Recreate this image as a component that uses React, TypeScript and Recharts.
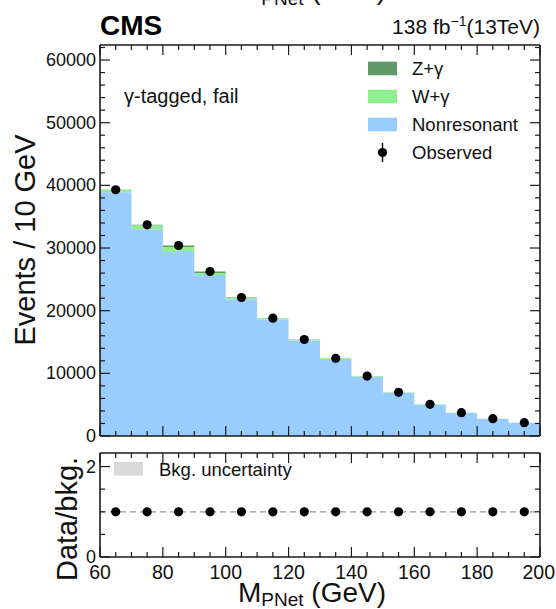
import React from 'react';
import { ComposedChart, Area, Scatter, XAxis, YAxis, ReferenceLine } from 'recharts';

// ---- binned data: M_PNet in 10 GeV bins from 60 to 200 GeV ----
const binLow = [60, 70, 80, 90, 100, 110, 120, 130, 140, 150, 160, 170, 180, 190];
const binWidth = 10;
const zGamma = [30, 60, 250, 230, 80, 40, 20, 10, 5, 5, 0, 0, 0, 0];
const wGamma = [350, 650, 800, 500, 200, 170, 150, 120, 100, 80, 60, 45, 35, 25];
const nonresonant = [38920, 32990, 29350, 25520, 21820, 18590, 15230, 12270, 9465, 6885, 5000, 3675, 2725, 2095];
const observed = [39300, 33700, 30400, 26250, 22100, 18800, 15400, 12400, 9570, 6970, 5060, 3720, 2760, 2120];

// ---- axis ticks ----
const xMajor = [60, 80, 100, 120, 140, 160, 180, 200];
const yMajor = [0, 10000, 20000, 30000, 40000, 50000, 60000];
const ratioMajor = [0, 2];
const ratioMinor = [0.5, 1, 1.5];

const steps = (from: number, to: number, step: number) => {
  const out: number[] = [];
  for (let v = from; v <= to + 1e-9; v += step) out.push(Math.round(v * 1000) / 1000);
  return out;
};
const xTicks = steps(60, 200, 5);
const yTicks = steps(0, 62000, 2000);
const ratioTicks = [...ratioMajor, ...ratioMinor].sort((a, b) => a - b);

// ---- colours ----
const FRAME = '#1a1a1a';
const Z_COLOR = '#619a68';
const W_COLOR = '#90ee90';
const NONRES_COLOR = '#99ccff';
const FONT = '"Liberation Sans", Arial, Helvetica, sans-serif';

// step-histogram rows at bin edges (last edge repeats the last bin)
const last = binLow.length - 1;
const histRows = [
  ...binLow.map((x, i) => ({ x, nonres: nonresonant[i], w: wGamma[i], z: zGamma[i] })),
  { x: binLow[last] + binWidth, nonres: nonresonant[last], w: wGamma[last], z: zGamma[last] },
];
const obsRows = binLow.map((x, i) => ({ x: x + binWidth / 2, y: observed[i] }));
const ratioRows = binLow.map((x, i) => ({
  x: x + binWidth / 2,
  y: observed[i] / (nonresonant[i] + wGamma[i] + zGamma[i]),
}));

const W = 556;
const H = 609;
const LEFT_AXIS_W = 60;
const PLOT_LEFT = 100;
const PLOT_RIGHT = 540;

type Side = 'left' | 'right' | 'top' | 'bottom';

// inward-pointing ROOT style ticks, with optional labels on the major ones
function frameTick(
  side: Side,
  majors: number[],
  label?: { fontSize: number; offset: number }
) {
  return (props: any) => {
    const x = Number(props.x);
    const y = Number(props.y);
    const v = Number(props.payload.value);
    const isMajor = majors.some((m) => Math.abs(m - v) < 1e-9);
    const len = isMajor ? 10 : 5;
    let x2 = x;
    let y2 = y;
    if (side === 'left') x2 = x + len;
    else if (side === 'right') x2 = x - len;
    else if (side === 'bottom') y2 = y - len;
    else y2 = y + len;
    let text: React.ReactNode = null;
    if (label && isMajor) {
      if (side === 'left') {
        text = (
          <text x={x - label.offset} y={y} dy="0.33em" textAnchor="end" fontSize={label.fontSize} fontFamily={FONT} fill="#111" stroke="none">
            {String(v)}
          </text>
        );
      } else if (side === 'bottom') {
        // keep the last label inside the page edge
        const half = String(v).length * 0.278 * label.fontSize;
        const clamp = x + half > W - 1;
        text = (
          <text
            x={clamp ? W - 1 : x}
            y={y + label.offset}
            textAnchor={clamp ? 'end' : 'middle'}
            fontSize={label.fontSize}
            fontFamily={FONT}
            fill="#111"
            stroke="none"
          >
            {String(v)}
          </text>
        );
      }
    }
    return (
      <g>
        <path d={`M${x},${y}L${x2},${y2}`} stroke={FRAME} strokeWidth={1.2} fill="none" />
        {text}
      </g>
    );
  };
}

const dot = (r: number) => (props: any) => <circle cx={props.cx} cy={props.cy} r={r} fill="#000" />;

const axisLine = { stroke: FRAME, strokeWidth: 1.6 };

// four framing axes sharing one x and one y domain
function frameAxes(
  yDomain: [number, number],
  yTickValues: number[],
  yMajors: number[],
  xLabels?: { fontSize: number; offset: number },
  yLabels?: { fontSize: number; offset: number }
) {
  return [
    <XAxis
      key="xb" type="number" dataKey="x" domain={[60, 200]} ticks={xTicks} interval={0}
      height={1} tickSize={0} tickMargin={0} tickLine={false} axisLine={axisLine}
      tick={frameTick('bottom', xMajor, xLabels)} allowDataOverflow
    />,
    <XAxis
      key="xt" xAxisId="top" orientation="top" type="number" dataKey="x" domain={[60, 200]} ticks={xTicks} interval={0}
      height={1} tickSize={0} tickMargin={0} tickLine={false} axisLine={axisLine}
      tick={frameTick('top', xMajor)} allowDataOverflow
    />,
    <YAxis
      key="yl" type="number" domain={yDomain} ticks={yTickValues} interval={0} width={LEFT_AXIS_W}
      tickSize={0} tickMargin={0} tickLine={false} axisLine={axisLine}
      tick={frameTick('left', yMajors, yLabels)} allowDataOverflow
    />,
    <YAxis
      key="yr" yAxisId="right" orientation="right" type="number" domain={yDomain} ticks={yTickValues} interval={0} width={1}
      tickSize={0} tickMargin={0} tickLine={false} axisLine={axisLine}
      tick={frameTick('right', yMajors)} allowDataOverflow
    />,
  ];
}

function MainPanel() {
  const plotTop = 45;
  const plotBottom = 436;
  const margin = { top: plotTop - 1, right: W - PLOT_RIGHT - 1, bottom: H - plotBottom - 1, left: PLOT_LEFT - LEFT_AXIS_W };
  const yDomain: [number, number] = [0, 62400];
  return (
    <ComposedChart width={W} height={H} data={histRows} margin={margin}>
      <Area type="stepAfter" dataKey="nonres" name="Nonresonant" stackId="bkg" stroke="none" fill={NONRES_COLOR} fillOpacity={1} isAnimationActive={false} dot={false} activeDot={false} />
      <Area type="stepAfter" dataKey="w" name="W+γ" stackId="bkg" stroke="none" fill={W_COLOR} fillOpacity={1} isAnimationActive={false} dot={false} activeDot={false} />
      <Area type="stepAfter" dataKey="z" name="Z+γ" stackId="bkg" stroke="none" fill={Z_COLOR} fillOpacity={1} isAnimationActive={false} dot={false} activeDot={false} />
      <Scatter data={obsRows} dataKey="y" name="Observed" fill="#000" shape={dot(4.6)} isAnimationActive={false} />
      {frameAxes(yDomain, yTicks, yMajor, undefined, { fontSize: 18, offset: 4 })}
    </ComposedChart>
  );
}

function RatioPanel() {
  const plotTop = 453;
  const plotBottom = 557;
  const margin = { top: plotTop - 1, right: W - PLOT_RIGHT - 1, bottom: H - plotBottom - 1, left: PLOT_LEFT - LEFT_AXIS_W };
  const yDomain: [number, number] = [0, 2.3];
  return (
    <ComposedChart width={W} height={H} data={ratioRows} margin={margin}>
      <ReferenceLine y={1} stroke="#9a9a9a" strokeWidth={1.3} strokeDasharray="6 4" />
      <Scatter data={ratioRows} dataKey="y" name="Data/bkg." fill="#000" shape={dot(4.6)} isAnimationActive={false} />
      {frameAxes(yDomain, ratioTicks, ratioMajor, { fontSize: 19.5, offset: 22 }, { fontSize: 18, offset: 4 })}
    </ComposedChart>
  );
}

const legendRows = [
  { label: 'Z+γ', color: Z_COLOR },
  { label: 'W+γ', color: W_COLOR },
  { label: 'Nonresonant', color: NONRES_COLOR },
];

function Annotations() {
  const rowY = [68.5, 96.5, 124.5, 152.5];
  return (
    <svg width={W} height={H} style={{ position: 'absolute', left: 0, top: 0, pointerEvents: 'none' }} fontFamily={FONT}>
      {/* axis title of the panel above, mostly outside the frame */}
      <text x={238} y={-1} fontSize={28} fill="#111">
        M<tspan fontSize={19} dy={6}>PNet</tspan><tspan dy={-6}> (GeV)</tspan>
      </text>

      <text x={100} y={35} fontSize={28} fontWeight="bold" fill="#000">CMS</text>
      <text x={540} y={34} fontSize={21} textAnchor="end" fill="#111">
        138 fb<tspan fontSize={14} dy={-8}>−1</tspan><tspan dy={8}>(13TeV)</tspan>
      </text>

      <text x={124} y={103} fontSize={20} fill="#111">γ-tagged, fail</text>

      {legendRows.map((r, i) => (
        <g key={r.label}>
          <rect x={368} y={rowY[i] - 6.8} width={29} height={13.6} fill={r.color} />
          <text x={412} y={rowY[i]} dy="0.36em" fontSize={18.5} fill="#111">{r.label}</text>
        </g>
      ))}
      <line x1={382.5} y1={rowY[3] - 9.5} x2={382.5} y2={rowY[3] + 9.5} stroke="#000" strokeWidth={1.4} />
      <circle cx={382.5} cy={rowY[3]} r={4.6} fill="#000" />
      <text x={412} y={rowY[3]} dy="0.36em" fontSize={18.5} fill="#111">Observed</text>

      <text transform="translate(35,240) rotate(-90)" textAnchor="middle" fontSize={29} fill="#111">Events / 10 GeV</text>

      <rect x={114} y={462} width={29} height={13.6} fill="#d9d9d9" />
      <text x={159} y={469} dy="0.36em" fontSize={18.5} fill="#111">Bkg. uncertainty</text>

      <text transform="translate(77,519) rotate(-90)" textAnchor="middle" fontSize={29} fill="#111">Data/bkg.</text>

      <text x={238} y={602} fontSize={28} fill="#111">
        M<tspan fontSize={19} dy={4}>PNet</tspan><tspan dy={-4}> (GeV)</tspan>
      </text>
    </svg>
  );
}

export default function App() {
  return (
    <div style={{ position: 'absolute', left: 0, top: 0, width: W, height: H, background: '#fff', overflow: 'hidden' }}>
      <div style={{ position: 'absolute', left: 0, top: 0 }}>
        <MainPanel />
      </div>
      <div style={{ position: 'absolute', left: 0, top: 0 }}>
        <RatioPanel />
      </div>
      <Annotations />
    </div>
  );
}
